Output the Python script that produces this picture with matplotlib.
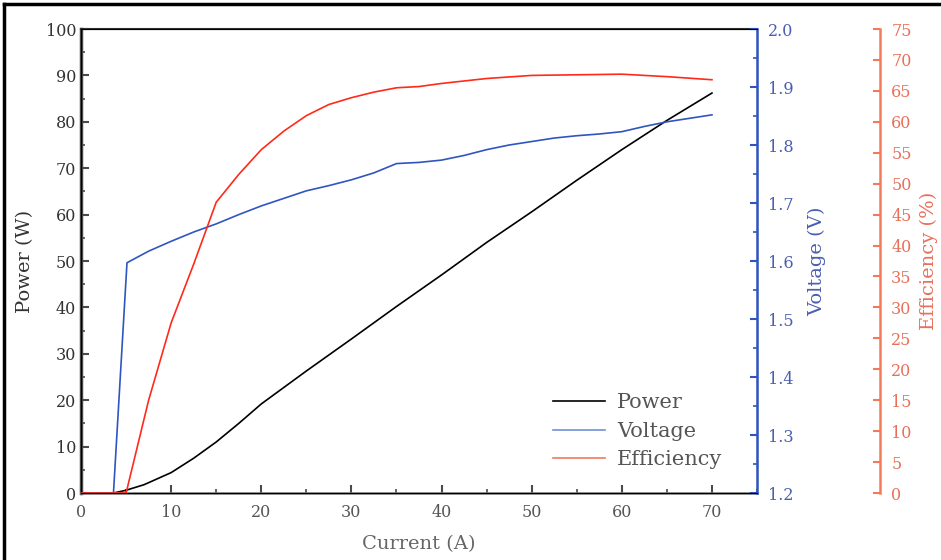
import matplotlib
matplotlib.use("Agg")
import matplotlib.pyplot as plt
from matplotlib.ticker import MultipleLocator, FormatStrFormatter

# Data
power_current = [0, 2.7, 3.6, 5, 7, 10, 12.5, 15, 17.5, 20, 25, 30, 35, 40, 45, 50, 55, 60, 65, 70]
power_w = [0, 0, 0, 0.6, 1.8, 4.4, 7.5, 11, 15, 19.2, 26.3, 33.2, 40.2, 47, 54, 60.6, 67.4, 74, 80.3, 86.2]

volt_current = [0, 3.6, 5.1, 7.5, 10, 12.5, 15, 17.5, 20, 22.5, 25, 27.5, 30, 32.5, 35,
                37.5, 40, 42.5, 45, 47.5, 50, 52.5, 55, 57.5, 60, 62.5, 65, 67.5, 70]
voltage_v = [1.2, 1.2, 1.597, 1.617, 1.634, 1.650, 1.664, 1.680, 1.695, 1.708, 1.721, 1.730,
             1.740, 1.752, 1.768, 1.770, 1.774, 1.782, 1.792, 1.800, 1.806, 1.812, 1.816,
             1.819, 1.823, 1.832, 1.840, 1.846, 1.852]

eff_current = [0, 5, 5.5, 7.5, 10, 12.5, 14, 15, 17.5, 20, 22.5, 25, 27.5, 30, 32.5, 35,
               37.5, 40, 45, 50, 55, 60, 65, 70]
efficiency_pct = [0, 0, 3, 15, 27.5, 37, 43, 47, 51.5, 55.5, 58.5, 61, 62.8, 63.9, 64.8, 65.5,
                  65.7, 66.2, 67, 67.5, 67.6, 67.7, 67.3, 66.8]

plt.rcParams['font.family'] = ['DejaVu Serif']

BLUE = '#2f55c0'
BLUE_TXT = '#4a5fb0'
RED = '#ff2a1a'
ORANGE = '#f07a5a'
GREY = '#4a4a4a'

fig = plt.figure(figsize=(9.41, 5.6), dpi=100)
ax = fig.add_axes([0.0861, 0.1196, 0.7184, 0.8286])
ax_v = ax.twinx()
ax_e = ax.twinx()
ax_e.spines['right'].set_position(('axes', 1.182))

lp, = ax.plot(power_current, power_w, color='black', lw=1.2, label='Power')
lv, = ax_v.plot(volt_current, voltage_v, color=BLUE, lw=1.2, label='Voltage')
le, = ax_e.plot(eff_current, efficiency_pct, color=RED, lw=1.2, label='Efficiency')

# left / bottom axis
ax.set_xlim(0, 75)
ax.set_ylim(0, 100)
ax.xaxis.set_major_locator(MultipleLocator(10))
ax.xaxis.set_minor_locator(MultipleLocator(5))
ax.yaxis.set_major_locator(MultipleLocator(10))
ax.yaxis.set_minor_locator(MultipleLocator(5))
ax.tick_params(axis='both', which='both', direction='in', colors=GREY, labelsize=11.5)
ax.tick_params(which='major', length=6, width=1.5)
ax.tick_params(which='minor', length=3, width=1.2)
ax.tick_params(axis='x', labelcolor='#555555', pad=8)
ax.tick_params(axis='y', labelcolor='#333333')
ax.spines['left'].set_color(GREY)
ax.spines['left'].set_linewidth(2.5)
ax.spines['bottom'].set_color('#777777')
ax.spines['bottom'].set_linewidth(1.8)
ax.spines['top'].set_color('#333333')
ax.spines['top'].set_linewidth(1.5)
ax.set_xlabel('Current (A)', fontsize=14, color='#666666', labelpad=10)
ax.set_ylabel('Power (W)', fontsize=14, color='#333333', labelpad=8)

# voltage axis
ax_v.set_ylim(1.2, 2.0)
ax_v.yaxis.set_major_locator(MultipleLocator(0.1))
ax_v.yaxis.set_minor_locator(MultipleLocator(0.05))
ax_v.yaxis.set_major_formatter(FormatStrFormatter('%.1f'))
ax_v.tick_params(axis='y', which='both', direction='in', colors=BLUE, labelcolor=BLUE_TXT,
                 labelsize=11.5, pad=8)
ax_v.tick_params(which='major', length=5, width=1.5)
ax_v.tick_params(which='minor', length=3, width=1.2)
ax_v.spines['right'].set_color(BLUE)
ax_v.spines['right'].set_linewidth(1.8)
ax_v.set_ylabel('Voltage (V)', fontsize=14, color=BLUE_TXT, labelpad=10)

# efficiency axis
ax_e.set_ylim(0, 75)
ax_e.yaxis.set_major_locator(MultipleLocator(5))
ax_e.tick_params(axis='y', direction='in', colors=ORANGE, labelcolor='#e8705a', labelsize=11.5,
                 length=5, width=1.5, pad=8)
ax_e.spines['right'].set_color(ORANGE)
ax_e.spines['right'].set_linewidth(1.8)
for s in ['left', 'top', 'bottom']:
    ax_e.spines[s].set_visible(False)
ax_e.set_ylabel('Efficiency (%)', fontsize=14, color='#e8705a', labelpad=6)

leg = ax.legend([lp, lv, le], ['Power', 'Voltage', 'Efficiency'], loc='upper left',
                bbox_to_anchor=(0.67, 0.255), frameon=False, fontsize=15,
                handlelength=2.5, handletextpad=0.6, labelspacing=0.45)
leg.get_lines()[1].set_color('#7090d8')
leg.get_lines()[2].set_color(ORANGE)
for t in leg.get_texts():
    t.set_color('#555555')

# frame around the picture (top and left edges visible in the reference)
fig.add_artist(plt.Line2D([0.004, 1.0], [0.993, 0.993], color='black', lw=2.5,
                          transform=fig.transFigure))
fig.add_artist(plt.Line2D([0.004, 0.004], [0.0, 0.993], color='black', lw=2.5,
                          transform=fig.transFigure))

fig.savefig('out.png', dpi=100)
